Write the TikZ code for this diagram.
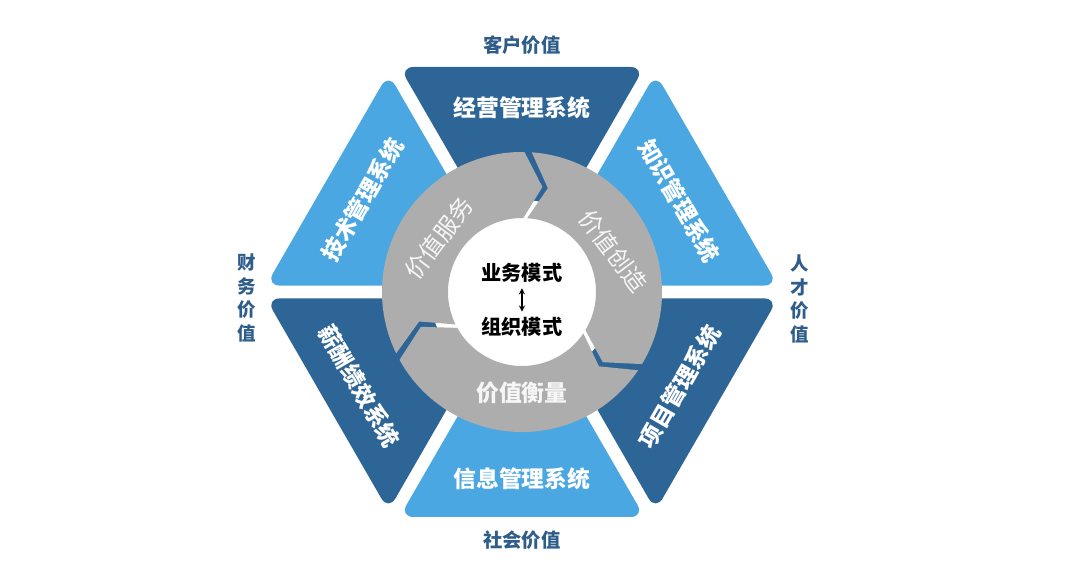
\documentclass[tikz,border=0pt]{standalone}
\usepackage{fontspec}
\setmainfont{Noto Sans CJK SC}

\definecolor{hexdark}{HTML}{2E6597}
\definecolor{hexlight}{HTML}{4AA7E1}
\definecolor{ringgray}{HTML}{ADADAD}
\definecolor{valtext}{HTML}{2F5D8A}

\tikzset{
    syslabel/.style={text=white, font=\bfseries\fontsize{13}{15}\selectfont},
    ringlabel/.style={text=white, text opacity=0.9, font=\fontsize{13.5}{15}\selectfont, inner sep=1pt},
    corelabel/.style={text=black, font=\bfseries\fontsize{11.5}{14}\selectfont, inner sep=3pt},
    valuelabel/.style={text=valtext, font=\bfseries\fontsize{11}{13}\selectfont, align=center}
}

\begin{document}
\begin{tikzpicture}[x=0.02cm, y=0.02cm]

    \useasboundingbox (-522,-289) rectangle (558,292);

    % Step 1: six triangles of the hexagon
    \foreach \rot/\col in {0/hexdark, -60/hexlight, -120/hexdark, 180/hexlight, 120/hexdark, 60/hexlight} {
        \fill[\col, rotate=\rot, rounded corners=8pt] (0,13) -- (-122.5,225) -- (122.5,225) -- cycle;
    }

    \node[syslabel] (jy) at (90:184) {经营管理系统};
    \node[syslabel, rotate=-60] (zs) at (30:182) {知识管理系统};
    \node[syslabel, rotate=60] (xm) at (-31:184) {项目管理系统};
    \node[syslabel] (xx) at (270:187) {信息管理系统};
    \node[syslabel, rotate=-60] (xc) at (210:188) {薪酬绩效系统};
    \node[syslabel, rotate=60] (js) at (150:184) {技术管理系统};

    % Step 2: gray ring cut into three arrows
    \fill[white] (0,0) circle (92);
    \foreach \e in {89,-31,209} {
        \fill[ringgray] (\e:140) arc[start angle=\e, end angle=\e+117, radius=140]
            -- ({\e+107}:107) -- ({\e+117}:74)
            arc[start angle=\e+117, end angle=\e, radius=74]
            -- ({\e-10}:107) -- cycle;
    }

    \node[ringlabel, rotate=53] (fw) at (147:99) {价值服务};
    \node[ringlabel, rotate=-53] (cz) at (24:100) {价值创造};
    \node[ringlabel, font=\bfseries\fontsize{13}{15}\selectfont] (hl) at (270:101) {价值衡量};

    % Step 3: centre
    \node[corelabel] (biz) at (0,19) {业务模式};
    \node[corelabel] (org) at (0,-35) {组织模式};
    \draw[<->, >=stealth, semithick] (biz) -- (org);

    % Step 4: values round the hexagon
    \node[valuelabel] (kh) at (0,247) {客户价值};
    \node[valuelabel] (sh) at (0,-248) {社会价值};
    \node[valuelabel, font=\bfseries\fontsize{10.5}{13.5}\selectfont] (cw) at (-275,-6) {财\\务\\价\\值};
    \node[valuelabel, font=\bfseries\fontsize{10.5}{13.5}\selectfont] (rc) at (278,-7) {人\\才\\价\\值};

\end{tikzpicture}
\end{document}
